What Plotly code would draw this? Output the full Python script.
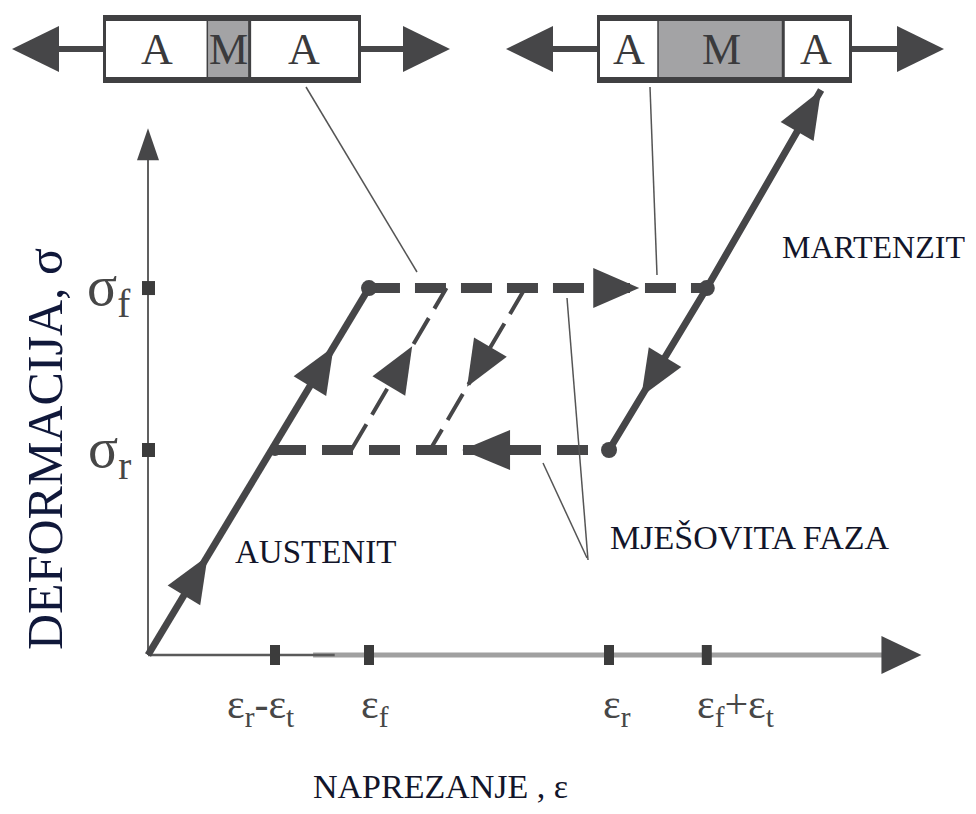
import math
import plotly.graph_objects as go

# ---------------- data ----------------
eps_ticks = [1.00, 1.74, 3.63, 4.40]          # eps_r-eps_t, eps_f, eps_r, eps_f+eps_t
eps_tick_text = ["ε<sub>r</sub>-ε<sub>t</sub>", "ε<sub>f</sub>", "ε<sub>r</sub>", "ε<sub>f</sub>+ε<sub>t</sub>"]
sigma_ticks = [1.00, 1.79]                    # sigma_r, sigma_f
sigma_tick_text = ["σ<sub>r</sub>", "σ<sub>f</sub>"]

austenite_eps = [0.00, 1.74]
austenite_sig = [0.00, 1.79]
forward_eps = [1.74, 4.40]
forward_sig = [1.79, 1.79]
martensite_eps = [3.63, 4.40, 5.30]
martensite_sig = [1.00, 1.79, 2.756]
reverse_eps = [1.00, 3.63]
reverse_sig = [1.00, 1.00]
partial_up_eps = [1.60, 2.35]
partial_up_sig = [1.00, 1.79]
partial_down_eps = [2.97, 2.22]
partial_down_sig = [1.79, 1.00]
dot_eps = [1.74, 4.40, 3.63]
dot_sig = [1.79, 1.79, 1.00]
x_axis_end = 6.09
y_axis_end = 2.57

left_box_cells = ["A", "M", "A"]
left_box_widths = [0.405, 0.165, 0.430]
right_box_cells = ["A", "M", "A"]
right_box_widths = [0.236, 0.500, 0.264]

# ---------------- layout constants ----------------
OFF = 8                      # page body margin
W, H = 960, 798
SX, SY = 127.0, 205.0        # pixels per unit
X0 = -(148 - OFF) / SX
Y1 = (655 - OFF) / SY
X_RANGE = [X0, X0 + W / SX]
Y_RANGE = [Y1 - H / SY, Y1]
DARK = "#464648"
TXT = "#12152a"
TICK = "#474747"
SERIF = "Liberation Serif, Times New Roman, serif"


def px(p):
    return (p - OFF) / W


def py(p):
    return 1 - (p - OFF) / H


fig = go.Figure()

# axes
fig.add_trace(go.Scatter(x=[0, 0], y=[0, y_axis_end - 0.05], mode="lines",
                         line=dict(color="#606060", width=2), hoverinfo="skip"))
fig.add_trace(go.Scatter(x=[1.3, x_axis_end - 0.2], y=[0, 0], mode="lines",
                         line=dict(color="#a0a0a0", width=5), hoverinfo="skip"))
fig.add_trace(go.Scatter(x=[0, 1.47], y=[0, 0], mode="lines",
                         line=dict(color="#5a5a5a", width=2.5), hoverinfo="skip"))

# partial (dashed thin) lines
for xs, ys in [(partial_up_eps, partial_up_sig), (partial_down_eps, partial_down_sig)]:
    fig.add_trace(go.Scatter(x=xs, y=ys, mode="lines",
                             line=dict(color=DARK, width=4, dash="30px,11px"), hoverinfo="skip"))

# plateaus (dashed thick)
fig.add_trace(go.Scatter(x=forward_eps, y=forward_sig, mode="lines",
                         line=dict(color=DARK, width=10, dash="31px,15px"), hoverinfo="skip"))
fig.add_trace(go.Scatter(x=reverse_eps, y=reverse_sig, mode="lines",
                         line=dict(color=DARK, width=10, dash="31px,16px"), hoverinfo="skip"))

# elastic lines
fig.add_trace(go.Scatter(x=austenite_eps, y=austenite_sig, mode="lines",
                         line=dict(color=DARK, width=7), hoverinfo="skip"))
fig.add_trace(go.Scatter(x=martensite_eps, y=martensite_sig, mode="lines",
                         line=dict(color=DARK, width=7), hoverinfo="skip"))

# dots
fig.add_trace(go.Scatter(x=dot_eps, y=dot_sig, mode="markers",
                         marker=dict(color=DARK, size=16), hoverinfo="skip"))
fig.add_trace(go.Scatter(x=[eps_ticks[0]], y=[sigma_ticks[0]], mode="markers",
                         marker=dict(color=DARK, size=12), hoverinfo="skip"))

shapes = []


def head(xt, yt, dx, dy, length, width, ref="x"):
    pxv, pyv = dx * SX, dy * SY
    n = math.hypot(pxv, pyv)
    ux, uy = pxv / n, pyv / n
    vx, vy = -uy, ux
    bx, by = -ux * length, -uy * length
    p1 = (bx + vx * width / 2, by + vy * width / 2)
    p2 = (bx - vx * width / 2, by - vy * width / 2)
    path = f"M0,0 L{p1[0]:.2f},{p1[1]:.2f} L{p2[0]:.2f},{p2[1]:.2f} Z"
    return dict(type="path", xref=ref, yref=("y" if ref == "x" else "paper"),
                xsizemode="pixel", ysizemode="pixel", xanchor=xt, yanchor=yt,
                path=path, fillcolor=DARK, line=dict(width=0), layer="above")


def along(xs, ys, t, length=46, width=38):
    x = xs[0] + (xs[1] - xs[0]) * t
    y = ys[0] + (ys[1] - ys[0]) * t
    return head(x, y, xs[1] - xs[0], ys[1] - ys[0], length, width)


# axis arrowheads
shapes.append(head(0, y_axis_end, 0, 1, 32, 22))
shapes.append(head(x_axis_end, 0, 1, 0, 40, 38))
# path arrowheads
shapes.append(along(austenite_eps, austenite_sig, 0.27))
shapes.append(along(austenite_eps, austenite_sig, 0.84))
shapes.append(along(partial_up_eps, partial_up_sig, 0.64))
shapes.append(along(partial_down_eps, partial_down_sig, 0.61))
shapes.append(along(forward_eps, forward_sig, 0.80, 46, 40))
shapes.append(along(reverse_eps[::-1], reverse_sig, 0.44, 48, 40))
shapes.append(along([martensite_eps[1], martensite_eps[0]], [martensite_sig[1], martensite_sig[0]], 0.67))
shapes.append(head(martensite_eps[2], martensite_sig[2], martensite_eps[2] - martensite_eps[1],
                   martensite_sig[2] - martensite_sig[1], 48, 38))

# tick markers
for v in eps_ticks:
    shapes.append(dict(type="rect", xref="x", yref="y", xsizemode="pixel", ysizemode="pixel",
                       xanchor=v, yanchor=0, x0=-5, x1=5, y0=-10, y1=10,
                       fillcolor="#3c3c3c", line=dict(width=0)))
for v in sigma_ticks:
    shapes.append(dict(type="rect", xref="x", yref="y", xsizemode="pixel", ysizemode="pixel",
                       xanchor=0, yanchor=v, x0=-6, x1=7, y0=-7, y1=7,
                       fillcolor="#3c3c3c", line=dict(width=0)))

annotations = []
eps_label_shift = [-50, -10, -8, -12]
for v, t, s in zip(eps_ticks, eps_tick_text, eps_label_shift):
    annotations.append(dict(x=v, y=0, xref="x", yref="y", text=t, showarrow=False,
                            xanchor="left", yanchor="top", xshift=s, yshift=-24,
                            font=dict(family=SERIF, size=42, color=TICK)))
for v, t in zip(sigma_ticks, sigma_tick_text):
    annotations.append(dict(x=0, y=v, xref="x", yref="y", text=t, showarrow=False,
                            xanchor="right", yanchor="middle", xshift=-15, yshift=-2,
                            font=dict(family=SERIF, size=56, color=TICK)))

# leader lines
for (x0, y0, x1, y1) in [(306, 87, 417, 272), (650, 87, 657, 275),
                         (567, 298, 588, 560), (543, 463, 587, 558)]:
    shapes.append(dict(type="line", xref="paper", yref="paper",
                       x0=px(x0), y0=py(y0), x1=px(x1), y1=py(y1),
                       line=dict(color="#555555", width=1.5)))


# top boxes
def box(x_left, x_right, cells, widths, arrow_l_tip, arrow_r_tip):
    top, bot, ymid = 15, 83, 49
    shapes.append(dict(type="line", xref="paper", yref="paper",
                       x0=px(arrow_l_tip + 40), y0=py(ymid), x1=px(x_left), y1=py(ymid),
                       line=dict(color=DARK, width=6)))
    shapes.append(dict(type="line", xref="paper", yref="paper",
                       x0=px(x_right), y0=py(ymid), x1=px(arrow_r_tip - 40), y1=py(ymid),
                       line=dict(color=DARK, width=6)))
    shapes.append(head(px(arrow_l_tip), py(ymid), -1, 0, 47, 46, ref="paper"))
    shapes.append(head(px(arrow_r_tip), py(ymid), 1, 0, 47, 46, ref="paper"))
    shapes.append(dict(type="rect", xref="paper", yref="paper",
                       x0=px(x_left), x1=px(x_right), y0=py(bot), y1=py(top),
                       fillcolor="#404042", line=dict(width=0)))
    shapes.append(dict(type="rect", xref="paper", yref="paper",
                       x0=px(x_left + 3), x1=px(x_right - 3), y0=py(bot - 6), y1=py(top + 6),
                       fillcolor="white", line=dict(width=0)))
    inner = (x_right - 3) - (x_left + 3)
    xc = x_left + 3
    for i, (c, w) in enumerate(zip(cells, widths)):
        x_next = xc + inner * w
        if c == "M":
            shapes.append(dict(type="rect", xref="paper", yref="paper",
                               x0=px(xc), x1=px(x_next), y0=py(bot - 6), y1=py(top + 6),
                               fillcolor="#a3a3a5", line=dict(width=0)))
        annotations.append(dict(x=px((xc + x_next) / 2), y=py(ymid + 1), xref="paper", yref="paper",
                                text=c, showarrow=False, xanchor="center", yanchor="middle",
                                font=dict(family=SERIF, size=44, color="#3a3a3c")))
        if i < len(cells) - 1:
            shapes.append(dict(type="line", xref="paper", yref="paper",
                               x0=px(x_next), x1=px(x_next), y0=py(bot - 6), y1=py(top + 6),
                               line=dict(color="#404042", width=3)))
        xc = x_next


box(103, 361, left_box_cells, left_box_widths, 12, 450)
box(597, 852, right_box_cells, right_box_widths, 506, 944)

# text labels
for text, x, y, size in [("AUSTENIT", 315, 552, 33), ("MARTENZIT", 873, 247, 32),
                         ("MJEŠOVITA FAZA", 750, 537, 34), ("NAPREZANJE , ε", 440, 786, 34)]:
    annotations.append(dict(x=px(x), y=py(y), xref="paper", yref="paper", text=text,
                            showarrow=False, xanchor="center", yanchor="middle",
                            font=dict(family=SERIF, size=size, color=TXT)))
annotations.append(dict(x=px(45), y=py(449), xref="paper", yref="paper", text="DEFORMACIJA, σ",
                        showarrow=False, textangle=-90, xanchor="center", yanchor="middle",
                        font=dict(family=SERIF, size=50, color="#10183a")))

fig.update_layout(
    width=W, height=H, margin=dict(l=0, r=0, t=0, b=0),
    paper_bgcolor="white", plot_bgcolor="white", showlegend=False,
    xaxis=dict(range=X_RANGE, visible=False, fixedrange=True),
    yaxis=dict(range=Y_RANGE, visible=False, fixedrange=True),
    shapes=shapes, annotations=annotations,
)

fig.write_html("out.html")
